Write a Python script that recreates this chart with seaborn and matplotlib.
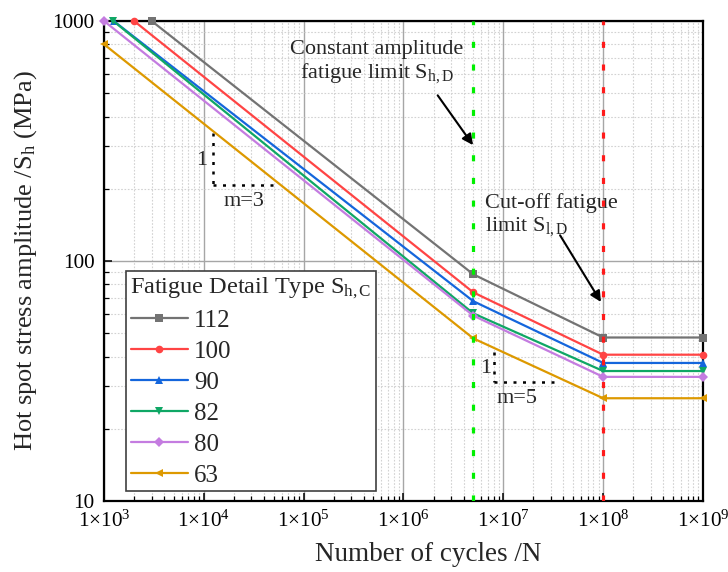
import numpy as np
import pandas as pd
import seaborn as sns
import matplotlib
matplotlib.use("Agg")
import matplotlib.pyplot as plt
from matplotlib.ticker import LogLocator, FixedLocator, FixedFormatter, NullFormatter

# S-N curve break points for each fatigue detail category
detail_types = ["112", "100", "90", "82", "80", "63"]
cycles_112 = [3000, 5e6, 1e8, 1e9]
stress_112 = [1000, 88.0, 48.0, 48.0]
cycles_100 = [2000, 5e6, 1e8, 1e9]
stress_100 = [1000, 74.0, 40.7, 40.7]
cycles_90 = [1250, 5e6, 1e8, 1e9]
stress_90 = [1000, 68.0, 37.6, 37.6]
cycles_82 = [1240, 5e6, 1e8, 1e9]
stress_82 = [1000, 60.5, 34.8, 34.8]
cycles_80 = [1000, 5e6, 1e8, 1e9]
stress_80 = [1000, 59.2, 32.9, 32.9]
cycles_63 = [1000, 5e6, 1e8, 1e9]
stress_63 = [800, 47.6, 26.8, 26.8]

# Knee points: constant amplitude limit and cut-off limit
n_constant_limit = 5e6
n_cutoff_limit = 1e8

x_tick_exponents = [3, 4, 5, 6, 7, 8, 9]
y_tick_values = [10, 100, 1000]

cycles = [cycles_112, cycles_100, cycles_90, cycles_82, cycles_80, cycles_63]
stresses = [stress_112, stress_100, stress_90, stress_82, stress_80, stress_63]

frames = []
for name, n, s in zip(detail_types, cycles, stresses):
    frames.append(pd.DataFrame({"N": n, "S": s, "Type": name}))
df = pd.concat(frames, ignore_index=True)

palette = {"112": "#737373", "100": "#ff4444", "90": "#1466dc",
           "82": "#0fa765", "80": "#c47ce0", "63": "#dd9900"}
markers = {"112": "s", "100": "o", "90": "^", "82": "v", "80": "D", "63": "<"}

sns.set_theme(style="ticks")
plt.rcParams["font.family"] = ["Liberation Serif", "DejaVu Serif"]
plt.rcParams["mathtext.fontset"] = "custom"
plt.rcParams["mathtext.rm"] = "Liberation Serif"
plt.rcParams["mathtext.it"] = "Liberation Serif:italic"
plt.rcParams["mathtext.bf"] = "Liberation Serif:bold"

fig = plt.figure(figsize=(7.28, 5.72), dpi=100)
ax = fig.add_axes([104 / 728, 1 - 501 / 572, 599 / 728, 480 / 572])

sns.lineplot(data=df, x="N", y="S", hue="Type", style="Type",
             hue_order=detail_types, style_order=detail_types,
             palette=palette, markers=markers, dashes=False,
             sort=False, estimator=None,
             lw=1.6, markersize=5.5, markeredgewidth=0, ax=ax, legend="full",
             zorder=3, clip_on=False)

ax.set_xscale("log")
ax.set_yscale("log")
ax.set_xlim(1e3, 1e9)
ax.set_ylim(10, 1000)

# Limit lines
ax.axvline(n_constant_limit, color="#00f000", lw=2.3, dashes=(1.9, 5.2), zorder=4)
ax.axvline(n_cutoff_limit, color="#ff1a1a", lw=2.3, dashes=(1.9, 5.2), zorder=4)

# Ticks
xt = [10.0 ** e for e in x_tick_exponents]
ax.xaxis.set_major_locator(FixedLocator(xt))
ax.xaxis.set_major_formatter(FixedFormatter(
    [r"1×10$\mathregular{^{%d}}$" % e for e in x_tick_exponents]))
ax.xaxis.set_minor_locator(LogLocator(base=10, subs=np.arange(2, 10), numticks=20))
ax.xaxis.set_minor_formatter(NullFormatter())
ax.yaxis.set_major_locator(FixedLocator(y_tick_values))
ax.yaxis.set_major_formatter(FixedFormatter([str(v) for v in y_tick_values]))
ax.yaxis.set_minor_locator(LogLocator(base=10, subs=np.arange(2, 10), numticks=20))
ax.yaxis.set_minor_formatter(NullFormatter())

ax.tick_params(which="major", direction="in", length=6, width=1.1,
               labelsize=15.2, colors="black", pad=7)
ax.tick_params(which="minor", direction="in", length=3.5, width=0.9, colors="black")

ax.grid(which="major", color="#a6a6a6", lw=1.0, ls="-", zorder=0)
ax.grid(which="minor", color="#d2d2d2", lw=0.8, ls=(0, (1.5, 1.5)), zorder=0)
ax.set_axisbelow(True)

for sp in ax.spines.values():
    sp.set_linewidth(1.6)
    sp.set_color("black")

ax.set_xlabel("Number of cycles /N", fontsize=19.5)
ax.set_ylabel(r"Hot spot stress amplitude /S$_\mathregular{h}$ (MPa)", fontsize=19)
ax.xaxis.set_label_coords(0.541, -0.085)
ax.yaxis.set_label_coords(-0.108, 0.5)

# Annotations
ax.annotate("", xy=(4.97e6, 304), xytext=(2.2e6, 490),
            arrowprops=dict(arrowstyle="-|>", color="black", lw=1.5, mutation_scale=16,
                            shrinkA=0, shrinkB=0))
ax.text(5.4e5, 670, "Constant amplitude\nfatigue limit S$_\\mathregular{h,D}$",
        ha="center", va="center", fontsize=16, linespacing=1.15)
ax.annotate("", xy=(9.5e7, 67.5), xytext=(3.7e7, 128),
            arrowprops=dict(arrowstyle="-|>", color="black", lw=1.5, mutation_scale=16,
                            shrinkA=0, shrinkB=0))
ax.text(6.5e6, 155, "Cut-off fatigue\nlimit S$_\\mathregular{l,D}$",
        ha="left", va="center", fontsize=16, linespacing=1.15)

# Slope indicators
dot = (0, (1.2, 2.6))
ax.plot([1.236e4, 1.236e4], [341, 207.5], color="black", lw=1.8, ls=dot)
ax.plot([1.236e4, 5.16e4], [207.5, 207.5], color="black", lw=1.8, ls=dot)
ax.text(9.6e3, 262, "1", ha="center", va="center", fontsize=16)
ax.text(2.5e4, 177, "m=3", ha="center", va="center", fontsize=16)
ax.plot([8.07e6, 8.07e6], [41.8, 31.3], color="black", lw=1.8, ls=dot)
ax.plot([8.07e6, 3.3e7], [31.3, 31.3], color="black", lw=1.8, ls=dot)
ax.text(6.6e6, 35.5, "1", ha="center", va="center", fontsize=16)
ax.text(1.36e7, 26.8, "m=5", ha="center", va="center", fontsize=16)

# Legend
handles, labels = ax.get_legend_handles_labels()
leg = ax.legend(handles, labels, title="Fatigue Detail Type S$_\\mathregular{h,C}$",
                loc="upper left", bbox_to_anchor=(126 / 728, 1 - 271 / 572),
                bbox_transform=fig.transFigure, fontsize=18, title_fontsize=17.5,
                frameon=True, fancybox=False, edgecolor="#404040", framealpha=1,
                handlelength=2.3, handletextpad=0.25, labelspacing=0.34,
                borderpad=0.18, borderaxespad=0, alignment="left")
leg.get_frame().set_linewidth(1.2)
leg.set_zorder(6)

fig.savefig("out.png", dpi=100)
